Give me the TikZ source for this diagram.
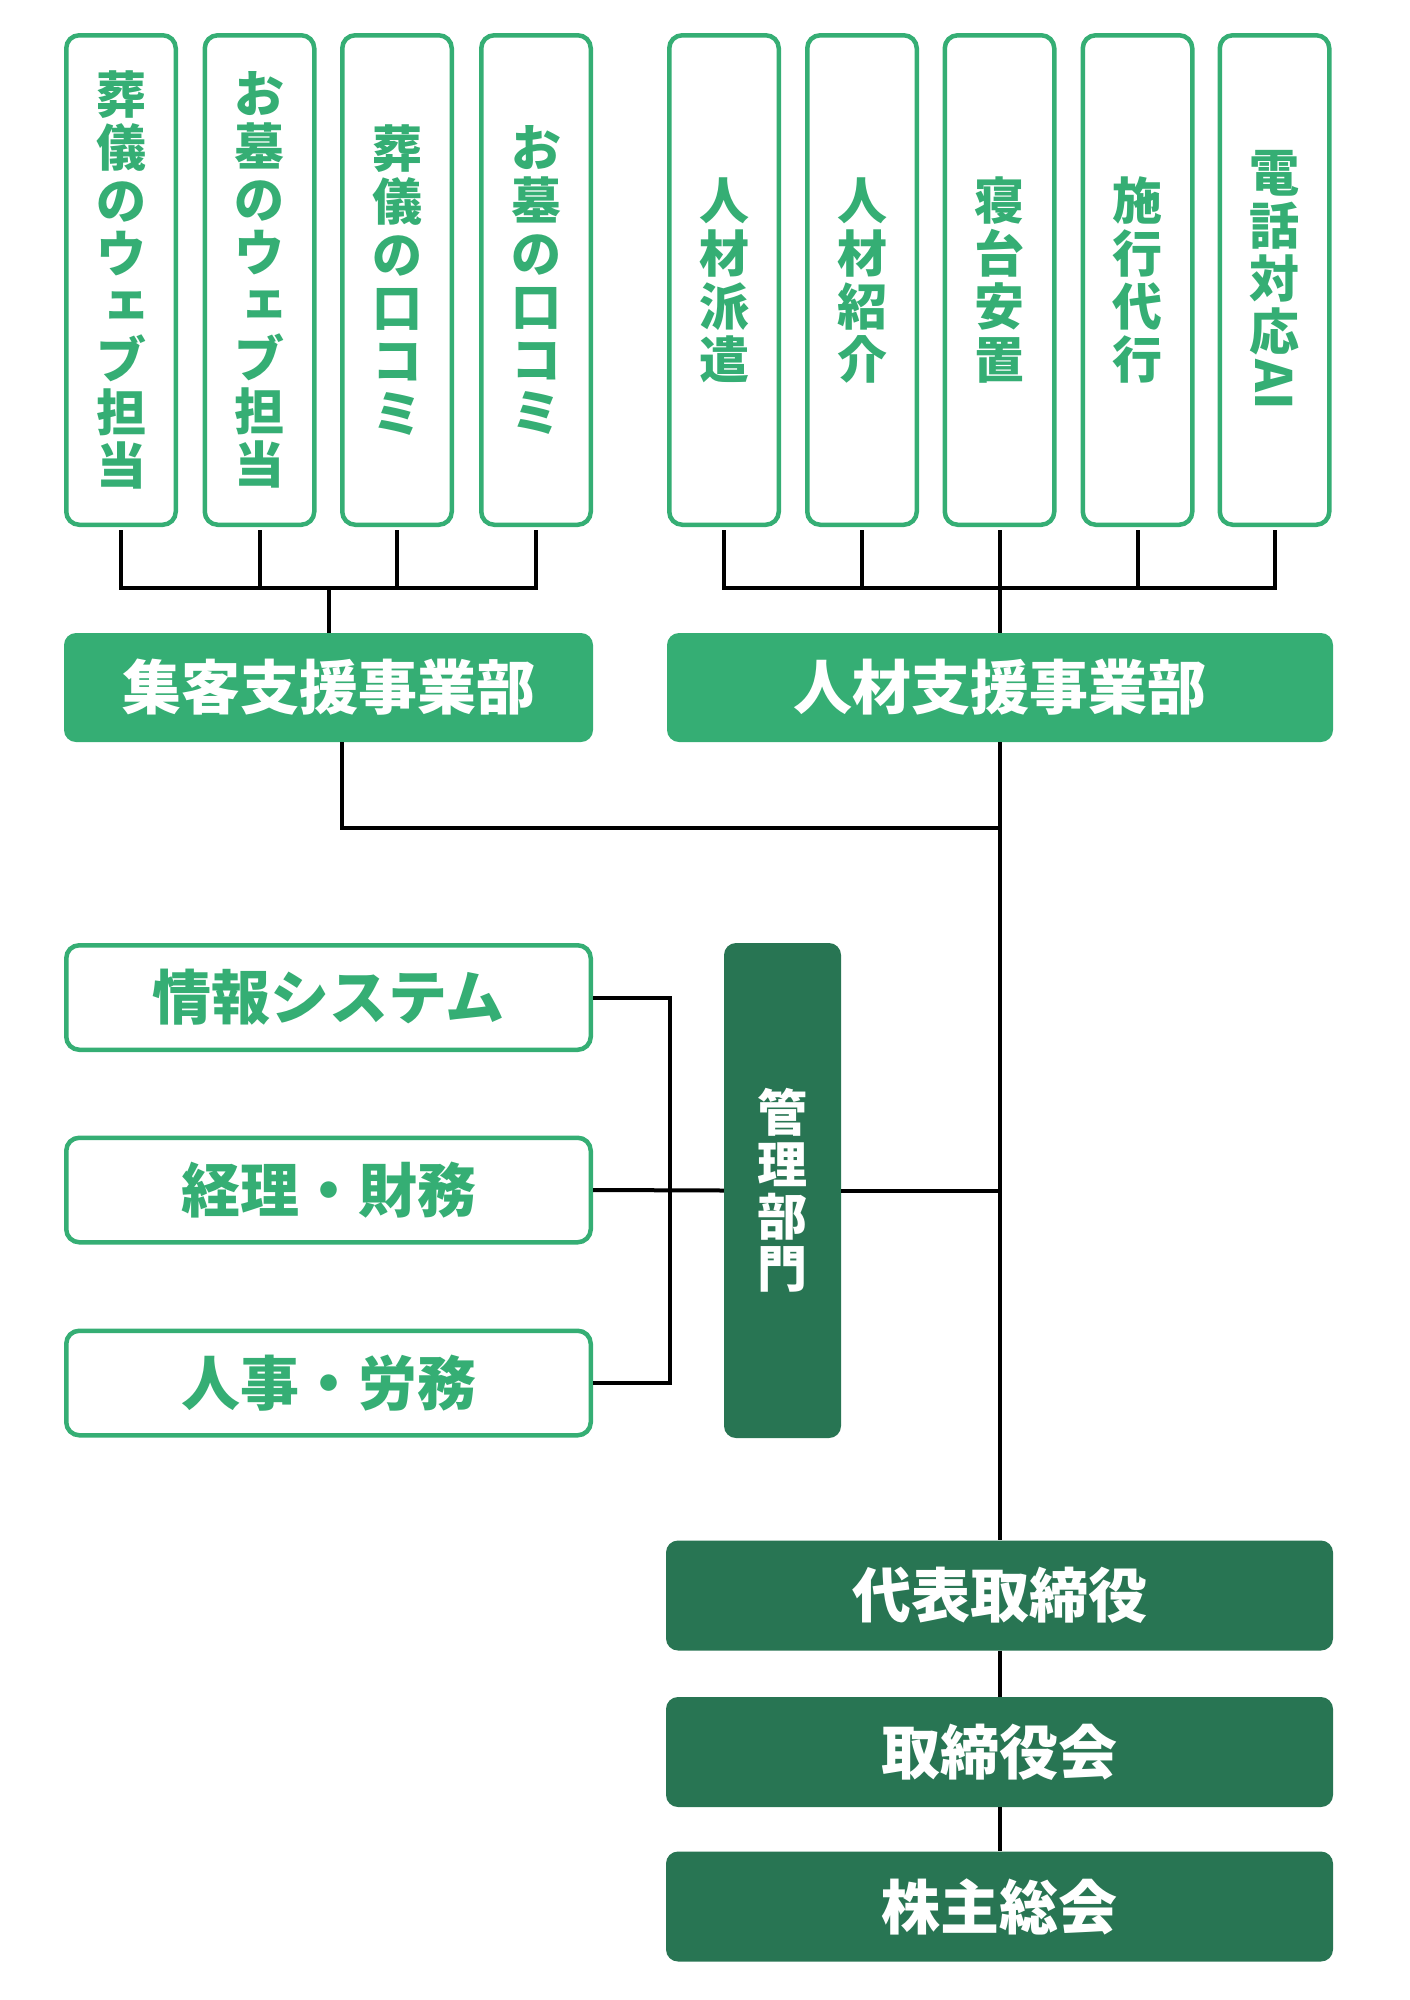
\documentclass[tikz,border=0pt]{standalone}
\usepackage{fontspec}
\setmainfont{Noto Sans CJK JP}
\newfontfamily\vjp{Noto Sans CJK JP}[RawFeature=+vert]
\usepackage{graphicx}
\definecolor{lg}{HTML}{35AE74}
\definecolor{dg}{HTML}{287553}
\begin{document}
\begin{tikzpicture}[x=1pt,y=-1pt,
  lgbox/.style={draw=lg,line width=4.5pt,rounded corners=13pt,fill=white,inner sep=0pt,text=lg},
  vbox/.style={lgbox,minimum width=109.5pt,minimum height=489.5pt,font=\bfseries\fontsize{50}{53}\selectfont,align=center},
  hbox/.style={lgbox,minimum width=524.5pt,minimum height=104.5pt,font=\bfseries\fontsize{59}{61}\selectfont},
  lgfill/.style={fill=lg,rounded corners=12pt,inner sep=0pt,text=white,font=\bfseries\fontsize{59}{61}\selectfont},
  dgfill/.style={fill=dg,rounded corners=12pt,inner sep=0pt,text=white,font=\bfseries\fontsize{59}{61}\selectfont},
  conn/.style={line width=4pt,draw=black}]
\useasboundingbox (0,0) rectangle (1409,2000);

% top boxes
\node[vbox] (b1) at (121,280) {葬\\儀\\の\\ウ\\{\vjp ェ}\\ブ\\担\\当};
\node[vbox] (b2) at (259.5,280) {お\\墓\\の\\ウ\\{\vjp ェ}\\ブ\\担\\当};
\node[vbox] (b3) at (397,280) {葬\\儀\\の\\口\\コ\\ミ};
\node[vbox] (b4) at (536,280) {お\\墓\\の\\口\\コ\\ミ};
\node[vbox] (b5) at (724,280) {人\\材\\派\\遣};
\node[vbox] (b6) at (862,280) {人\\材\\紹\\介};
\node[vbox] (b7) at (999.5,280) {寝\\台\\安\\置};
\node[vbox] (b8) at (1137.5,280) {施\\行\\代\\行};
\node[vbox] (b9) at (1274.5,280) {電\\話\\対\\応\\\rotatebox[origin=c]{-90}{AI}};

% departments
\node[lgfill,minimum width=529pt,minimum height=109pt] (shukyaku) at (328.5,687.5) {集客支援事業部};
\node[lgfill,minimum width=666pt,minimum height=109pt] (jinzai) at (1000,687.5) {人材支援事業部};

% admin
\node[hbox] (joho) at (328.5,997.5) {情報システム};
\node[hbox] (keiri) at (328.5,1190) {経理・財務};
\node[hbox] (jinji) at (328.5,1383) {人事・労務};
\node[dgfill,minimum width=117pt,minimum height=495pt,font=\bfseries\fontsize{50}{52}\selectfont,align=center] (kanri) at (782.5,1190.5) {管\\理\\部\\門};

% top management
\node[dgfill,minimum width=667pt,minimum height=110pt] (daihyo) at (999.5,1595.5) {代表取締役};
\node[dgfill,minimum width=667pt,minimum height=110pt] (torishimari) at (999.5,1752) {取締役会};
\node[dgfill,minimum width=667pt,minimum height=110pt] (kabunushi) at (999.5,1906.5) {株主総会};

% connectors
\coordinate (jL) at (329,588);
\draw[conn,shorten <=3pt,shorten >=3pt] (b1.south) -- (b1.south|-jL) -- (b4.south|-jL) -- (b4.south);
\draw[conn,shorten <=3pt] (b2.south) -- (b2.south|-jL);
\draw[conn,shorten <=3pt] (b3.south) -- (b3.south|-jL);
\draw[conn] (jL) -- (jL|-shukyaku.north);

\draw[conn,shorten <=3pt,shorten >=3pt] (b5.south) -- (b5.south|-jL) -- (b9.south|-jL) -- (b9.south);
\draw[conn,shorten <=3pt] (b6.south) -- (b6.south|-jL);
\draw[conn,shorten <=3pt] (b8.south) -- (b8.south|-jL);
\draw[conn,shorten <=3pt] (b7.south) -- (b7.south|-jinzai.north);

\coordinate (k1) at ([xshift=13.5pt]shukyaku.south);
\coordinate (mid) at (0,828);
\draw[conn] (k1) |- (jinzai.south|-mid);
\draw[conn] (jinzai.south) -- (jinzai.south|-daihyo.north);

\coordinate (bx) at (670,0);
\draw[conn] (joho.east) -| (bx|-jinji.east) -- (jinji.east);
\draw[conn] (keiri.east) -- (kanri.west);
\draw[conn] (kanri.east) -- (kanri.east-|jinzai.south);

\draw[conn] (daihyo.south) -- (torishimari.north);
\draw[conn] (torishimari.south) -- (kabunushi.north);
\end{tikzpicture}
\end{document}
